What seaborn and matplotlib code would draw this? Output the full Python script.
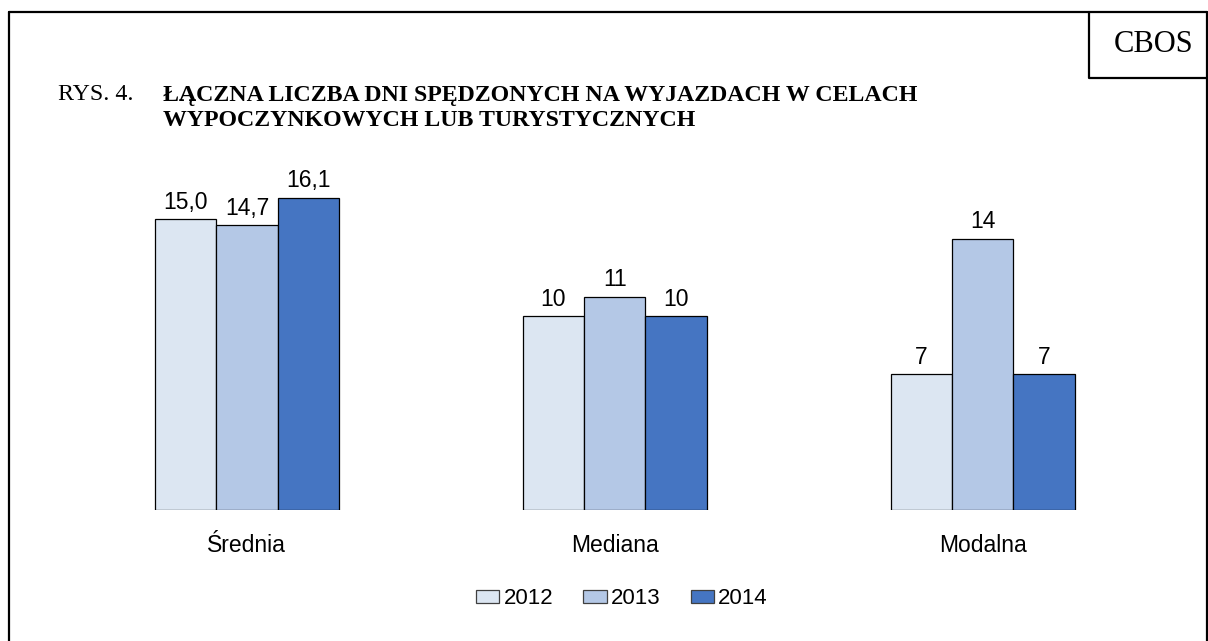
import matplotlib
matplotlib.use("Agg")
import matplotlib.pyplot as plt
import seaborn as sns
import pandas as pd
from matplotlib.patches import Rectangle
from matplotlib.lines import Line2D

categories = ["Średnia", "Mediana", "Modalna"]
years = ["2012", "2013", "2014"]
values_2012 = [15.0, 10, 7]
values_2013 = [14.7, 11, 14]
values_2014 = [16.1, 10, 7]
label_2012 = ["15,0", "10", "7"]
label_2013 = ["14,7", "11", "14"]
label_2014 = ["16,1", "10", "7"]
colors = ["#DCE6F2", "#B4C8E6", "#4575C2"]

rows = []
for y, vals in zip(years, [values_2012, values_2013, values_2014]):
    for c, v in zip(categories, vals):
        rows.append({"cat": c, "year": y, "val": v})
df = pd.DataFrame(rows)

sns.set_theme(style="white")
plt.rcParams['font.family'] = ['Liberation Sans', 'DejaVu Sans']

W, H = 1208, 641
fig = plt.figure(figsize=(W / 100, H / 100), dpi=100)
x0, x1 = 247 - 184, 982.5 + 184
base = 510
ppu = 19.38
ymax = 17
ax = fig.add_axes([x0 / W, (H - base) / H, (x1 - x0) / W, ymax * ppu / H])

sns.barplot(data=df, x="cat", y="val", hue="year", order=categories,
            hue_order=years, palette=colors, width=0.5, ax=ax,
            edgecolor="black", linewidth=0.9, errorbar=None, saturation=1)

for cont, labs in zip(ax.containers, [label_2012, label_2013, label_2014]):
    ax.bar_label(cont, labels=labs, padding=4, fontsize=16.5, color="black")

ax.set_xlim(-0.5, 2.5)
ax.set_ylim(0, ymax)
ax.set_xlabel("")
ax.set_ylabel("")
ax.set_yticks([])
ax.tick_params(axis="x", length=0, labelsize=16.5, pad=17.5, labelcolor="black")
for s in ["top", "right", "left", "bottom"]:
    ax.spines[s].set_visible(False)
ax.legend_.remove()

handles = [Rectangle((0, 0), 1, 1, facecolor=c, edgecolor="#404040", linewidth=0.9) for c in colors]
fig.legend(handles, years, loc="center", bbox_to_anchor=(622 / W, 1 - 599 / H),
           ncol=3, frameon=False, fontsize=16, handlelength=1.04, handleheight=0.55,
           handletextpad=0.2, columnspacing=1.35, borderpad=0, labelcolor="black")

def fx(x): return x / W
def fy(y): return 1 - y / H

# outer frame
lw = 1.6
fig.add_artist(Line2D([fx(9), fx(9)], [fy(12), 0], color="black", lw=lw, transform=fig.transFigure))
fig.add_artist(Line2D([fx(9), fx(1207)], [fy(12), fy(12)], color="black", lw=lw, transform=fig.transFigure))
fig.add_artist(Line2D([fx(1207), fx(1207)], [fy(12), 0], color="black", lw=lw, transform=fig.transFigure))
# CBOS box
fig.add_artist(Line2D([fx(1089), fx(1089), fx(1207)], [fy(12), fy(78), fy(78)],
                      color="black", lw=lw, transform=fig.transFigure))
fig.text(fx(1154), fy(44), "CBOS", ha="center", va="center", fontsize=22,
         family="Liberation Serif", color="black")

fig.text(fx(58), fy(95), "RYS. 4.", ha="left", va="center", fontsize=17.2,
         family="Liberation Serif", color="black")
fig.text(fx(163), fy(95), "ŁĄCZNA LICZBA DNI SPĘDZONYCH NA WYJAZDACH W CELACH",
         ha="left", va="center", fontsize=17.2, fontweight="bold", family="Liberation Serif",
         color="black")
fig.text(fx(163), fy(120), "WYPOCZYNKOWYCH LUB TURYSTYCZNYCH",
         ha="left", va="center", fontsize=17.2, fontweight="bold", family="Liberation Serif",
         color="black")

fig.savefig("out.png", dpi=100)
